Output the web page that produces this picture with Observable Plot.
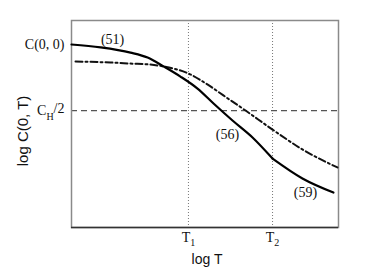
<!DOCTYPE html>
<html>
<head>
<meta charset="utf-8">
<script src="https://cdn.jsdelivr.net/npm/d3@7"></script>
<script src="https://cdn.jsdelivr.net/npm/@observablehq/plot@0.6"></script>
<style>
  html, body { margin: 0; padding: 0; background: #fff; }
  #chart svg { display: block; }
</style>
</head>
<body>
<div id="chart"></div>
<script>
// Solid curve (eq. 51 -> 56 -> 59), in log T / log C units (0..10)
const solidX1 = [0, 1.09, 2.21, 2.85, 3.45, 4.08, 4.72, 5.32, 6.03, 6.78, 7.53];
const solidY1 = [8.84, 8.70, 8.45, 8.21, 7.78, 7.29, 6.71, 5.99, 5.17, 4.35, 3.33];
const solidX2 = [7.53, 8.65, 9.81];
const solidY2 = [3.33, 2.37, 1.69];
// Dash-dot curve
const dashX = [0.15, 1.46, 2.21, 2.96, 3.45, 4.38, 5.09, 5.69, 6.52, 7.53, 8.65, 9.96];
const dashY = [8.02, 7.97, 7.92, 7.87, 7.78, 7.44, 6.91, 6.38, 5.65, 4.73, 3.77, 2.90];
// Ticks
const xTicks = [4.38, 7.53];
const xTickLabels = [{base: "T", sub: "1", tail: ""}, {base: "T", sub: "2", tail: ""}];
const yTicks = [8.84, 5.65];
const yTickLabels = [{base: "C(0, 0)", sub: "", tail: ""}, {base: "C", sub: "H", tail: "/2"}];
// Curve annotations
const annX = [1.54, 5.84, 8.76];
const annY = [9.06, 4.49, 1.69];
const annText = ["(51)", "(56)", "(59)"];

const solid = [
  ...solidX1.map((x, i) => ({x, y: solidY1[i], seg: "a"})),
  ...solidX2.map((x, i) => ({x, y: solidY2[i], seg: "b"}))
];
const dashdot = dashX.map((x, i) => ({x, y: dashY[i]}));
const xt = xTicks.map((x, i) => ({x, ...xTickLabels[i]}));
const yt = yTicks.map((y, i) => ({y, ...yTickLabels[i]}));
const ann = annText.map((t, i) => ({x: annX[i], y: annY[i], t}));

const serif = "Liberation Serif, Times New Roman, serif";
const sans = "Liberation Sans, Arial, sans-serif";

const chart = Plot.plot({
  width: 374,
  height: 280,
  marginLeft: 71,
  marginRight: 36,
  marginTop: 20,
  marginBottom: 53,
  x: {domain: [0, 10], axis: null},
  y: {domain: [0, 10], axis: null},
  style: {background: "white", overflow: "visible"},
  marks: [
    Plot.ruleX(xTicks, {stroke: "#777", strokeWidth: 1, strokeDasharray: "1,2"}),
    Plot.ruleY([yTicks[1]], {stroke: "#555", strokeWidth: 1.3, strokeDasharray: "6,4"}),
    Plot.frame({stroke: "#8a8a8a", strokeWidth: 1.5}),
    Plot.ruleY([0], {stroke: "#333", strokeWidth: 1.5}),
    Plot.line(dashdot, {x: "x", y: "y", curve: "monotone-x", stroke: "#111", strokeWidth: 2, strokeDasharray: "7,3,2,3"}),
    Plot.line(solid, {x: "x", y: "y", z: "seg", curve: "monotone-x", stroke: "#000", strokeWidth: 2.2}),
    Plot.text(ann, {x: "x", y: "y", text: "t", fontFamily: serif, fontSize: 14, fill: "#111"}),
    Plot.text(xt, {x: "x", frameAnchor: "bottom", text: d => d.base + d.sub + d.tail, dy: 10, fontFamily: serif, fontSize: 14, fill: "#111", lineAnchor: "middle"}),
    Plot.text(yt, {y: "y", frameAnchor: "left", text: d => d.base + d.sub + d.tail, dx: -7, textAnchor: "end", lineAnchor: "middle", fontFamily: serif, fontSize: 14, fill: "#111"}),
    Plot.text(["log T"], {frameAnchor: "bottom", text: d => d, dx: 2, dy: 32, lineAnchor: "middle", textAnchor: "middle", fontFamily: sans, fontSize: 14, fill: "#111"}),
    Plot.text(["log C(0, T)"], {frameAnchor: "left", text: d => d, dx: -48, dy: 7, rotate: -90, textAnchor: "middle", lineAnchor: "middle", fontFamily: sans, fontSize: 15, fill: "#111"})
  ]
});

document.getElementById("chart").appendChild(chart);

// Turn subscript parts of tick labels into real tspans
const labs = [...xTickLabels, ...yTickLabels].filter(l => l.sub);
d3.select(chart).selectAll("text").each(function () {
  const t = this.textContent;
  const lab = labs.find(l => l.base + l.sub + l.tail === t);
  if (!lab) return;
  const sel = d3.select(this);
  sel.text(null);
  sel.append("tspan").text(lab.base);
  sel.append("tspan").attr("dy", "0.45em").attr("font-size", 10).text(lab.sub);
  if (lab.tail) sel.append("tspan").attr("dy", "-0.45em").text(lab.tail);
});
</script>
</body>
</html>
